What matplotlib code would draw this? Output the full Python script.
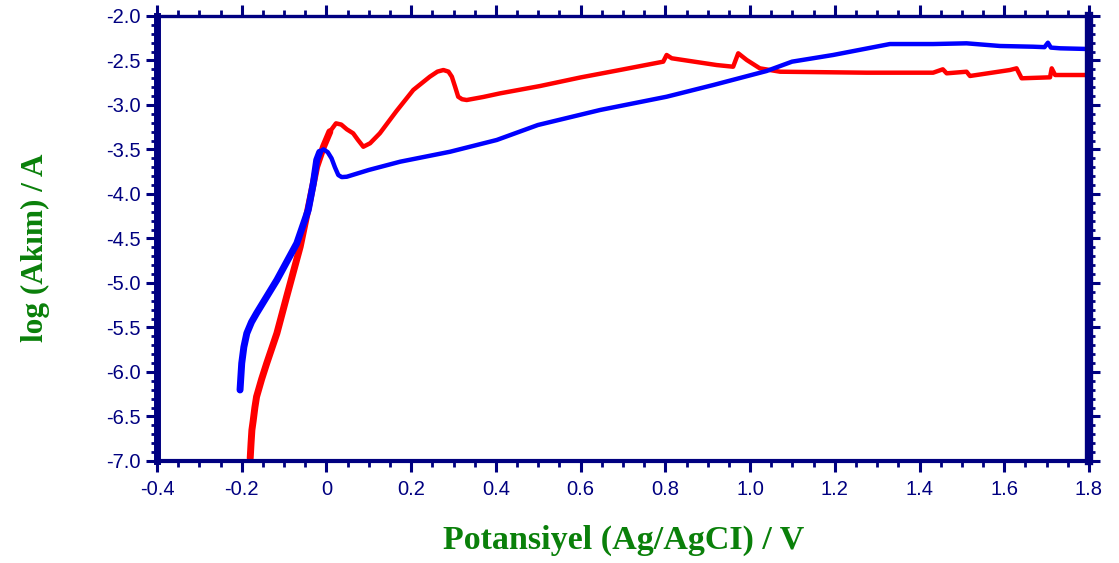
import numpy as np
import matplotlib.pyplot as plt
from matplotlib.ticker import MultipleLocator, FuncFormatter

# Polarization curves: potential (V vs Ag/AgCl) and log(current)
red_x = [-0.180, -0.178, -0.176, -0.173, -0.169, -0.165, -0.153, -0.141, -0.117,
         -0.094, -0.062, -0.039, -0.023, -0.007, 0.008, 0.0225, 0.035, 0.048, 0.063,
         0.074, 0.087, 0.103, 0.126, 0.165, 0.205, 0.244, 0.262, 0.276, 0.288,
         0.296, 0.304, 0.311, 0.320, 0.331, 0.370, 0.410, 0.504, 0.600, 0.700,
         0.795, 0.803, 0.815, 0.921, 0.960, 0.972, 0.992, 1.023, 1.071, 1.275,
         1.432, 1.455, 1.464, 1.511, 1.519, 1.613, 1.629, 1.641, 1.708, 1.712,
         1.720, 1.800]
red_y = [-6.970, -6.800, -6.652, -6.550, -6.400, -6.278, -6.080, -5.902, -5.565,
         -5.154, -4.592, -4.067, -3.693, -3.469, -3.300, -3.206, -3.220, -3.273, -3.318,
         -3.390, -3.469, -3.430, -3.318, -3.070, -2.831, -2.682, -2.625, -2.607, -2.625,
         -2.682, -2.800, -2.907, -2.935, -2.944, -2.910, -2.869, -2.787, -2.690, -2.600,
         -2.513, -2.438, -2.475, -2.551, -2.570, -2.419, -2.494, -2.588, -2.626, -2.637,
         -2.637, -2.599, -2.644, -2.626, -2.674, -2.607, -2.588, -2.700, -2.689, -2.588,
         -2.663, -2.663]

blue_x = [-0.204, -0.202, -0.200, -0.195, -0.188, -0.177, -0.165, -0.141, -0.117,
          -0.070, -0.043, -0.031, -0.023, -0.016, -0.007, 0.003, 0.012, 0.020, 0.028,
          0.036, 0.048, 0.100, 0.174, 0.292, 0.402, 0.499, 0.646, 0.803, 0.9135,
          1.039, 1.099, 1.196, 1.330, 1.432, 1.511, 1.590, 1.668, 1.695, 1.703,
          1.710, 1.732, 1.800]
blue_y = [-6.202, -6.050, -5.902, -5.720, -5.565, -5.440, -5.340, -5.153, -4.966,
          -4.554, -4.180, -3.880, -3.618, -3.530, -3.498, -3.530, -3.599, -3.700, -3.787,
          -3.810, -3.806, -3.730, -3.637, -3.525, -3.393, -3.225, -3.056, -2.907, -2.775,
          -2.618, -2.513, -2.438, -2.315, -2.315, -2.307, -2.337, -2.345, -2.350, -2.300,
          -2.355, -2.363, -2.371]

navy = "#000080"
green = "#0a800a"

fig = plt.figure(figsize=(11.19, 5.63), dpi=100)
ax = fig.add_axes([157 / 1119, 1 - 461 / 563, 932 / 1119, 445 / 563])

# steep lower branches look heavier, so draw them with a thicker line
n_red = 15
n_blue = 14
ax.plot(red_x, red_y, color="#ff0000", lw=3.2, solid_capstyle="round", solid_joinstyle="round")
ax.plot(red_x[:n_red], red_y[:n_red], color="#ff0000", lw=5.0, solid_capstyle="round",
        solid_joinstyle="round")
ax.plot(blue_x, blue_y, color="#0000ff", lw=3.2, solid_capstyle="round", solid_joinstyle="round")
ax.plot(blue_x[:n_blue], blue_y[:n_blue], color="#0000ff", lw=5.0, solid_capstyle="round",
        solid_joinstyle="round")

ax.set_xlim(-0.4, 1.8)
ax.set_ylim(-7.0, -2.0)
ax.xaxis.set_major_locator(MultipleLocator(0.2))
ax.xaxis.set_minor_locator(MultipleLocator(0.05))
ax.yaxis.set_major_locator(MultipleLocator(0.5))
ax.yaxis.set_minor_locator(MultipleLocator(0.1))


def xfmt(v, pos):
    if abs(v) < 1e-9:
        return "0"
    return f"{v:.1f}"


ax.xaxis.set_major_formatter(FuncFormatter(xfmt))
ax.yaxis.set_major_formatter(FuncFormatter(lambda v, pos: f"{v:.1f}"))

for side, w in [("left", 5.0), ("right", 6.0), ("top", 2.4), ("bottom", 3.0)]:
    ax.spines[side].set_color(navy)
    ax.spines[side].set_linewidth(w)

ax.tick_params(which="both", direction="out", colors=navy, top=True, right=True,
               labeltop=False, labelright=False)
ax.tick_params(which="major", length=8, width=2.2, labelsize=14.5, pad=4,
               labelcolor=navy)
ax.tick_params(which="minor", length=4.5, width=2.0)
ax.tick_params(axis="x", which="major", pad=6)
for lab in ax.get_xticklabels() + ax.get_yticklabels():
    lab.set_family(["Liberation Sans", "DejaVu Sans"])

fig.text(624 / 1119, 1 - 540 / 563, "Potansiyel (Ag/AgCI) / V", color=green,
         fontsize=24.5, fontweight="bold", family="Liberation Serif",
         ha="center", va="center")
fig.text(35 / 1119, 1 - 248 / 563, "log (Akım) / A", color=green,
         fontsize=22.5, fontweight="bold", family="Liberation Serif",
         rotation=90, ha="center", va="center")

fig.savefig("out.png", dpi=100)
